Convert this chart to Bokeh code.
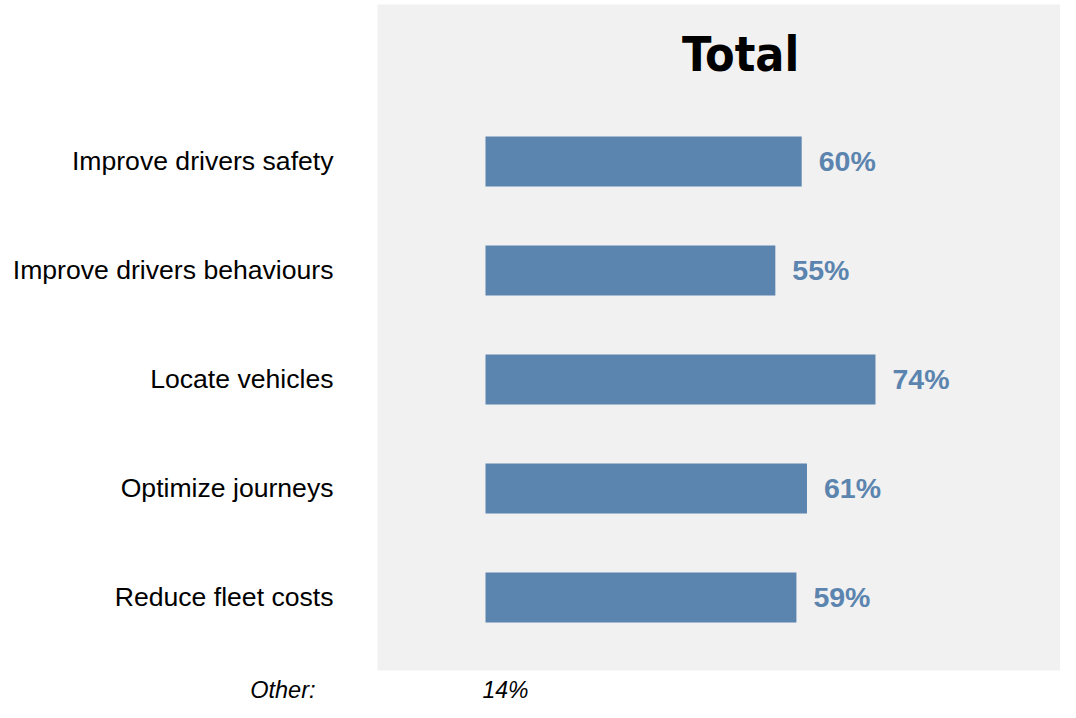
from bokeh.plotting import figure
from bokeh.models import Range1d, ColumnDataSource
from bokeh.core.properties import value
from bokeh.embed import file_html
from bokeh.resources import INLINE

# ---- data ----
categories = ["Improve drivers safety", "Improve drivers behaviours", "Locate vehicles",
              "Optimize journeys", "Reduce fleet costs"]
values = [60, 55, 74, 61, 59]
other_label = "Other:"
other_value = 14
title_text = "Total"

BAR_COLOR = "#5b84af"
PANEL_COLOR = "#f1f1f1"

n = len(categories)
ypos = [n - i for i in range(n)]  # top row highest

p = figure(width=1060, height=702, output_backend="svg", toolbar_location=None,
           x_range=Range1d(-92.03, 109.11), y_range=Range1d(0.0367, 6.477),
           min_border_left=0, min_border_right=0, min_border_top=0, min_border_bottom=0,
           x_axis_location=None, y_axis_location=None)
p.outline_line_color = None
p.grid.visible = False
p.background_fill_color = "white"
p.border_fill_color = "white"

# grey panel
p.quad(left=[-20.49], right=[115], bottom=[0.33], top=[6.44], fill_color=PANEL_COLOR, line_color=None)

src = ColumnDataSource(dict(y=ypos, v=values, lab=[f"{v}%" for v in values], cat=categories,
                            zero=[0] * n))
p.hbar(y="y", left=0, right="v", height=0.459, source=src, fill_color=BAR_COLOR, line_color=None)
p.text(x="v", y="y", text="lab", source=src, x_offset=17, text_align="left", text_baseline="middle",
       text_font=value("Liberation Sans"), text_font_style="bold", text_font_size="28.5px",
       text_color=BAR_COLOR)

# category labels
p.text(x="zero", y="y", text="cat", source=src, x_offset=-152, text_align="right",
       text_baseline="middle", text_font=value("Liberation Sans"), text_font_size="26.6px",
       text_color="black")

# title
p.text(x=[48.4], y=[5.99], text=[title_text], text_align="center", text_baseline="middle",
       text_font=value("Impact, Liberation Sans Narrow, DejaVu Sans Condensed, sans-serif"),
       text_font_style="bold", text_font_size="48px", text_color="black")

# other
p.text(x=[0], y=[0.15], text=[other_label], x_offset=-170, text_align="right", text_baseline="middle",
       text_font=value("Liberation Sans"), text_font_style="italic", text_font_size="23.5px",
       text_color="black")
p.text(x=[0], y=[0.15], text=[f"{other_value}%"], x_offset=-3, text_align="left", text_baseline="middle",
       text_font=value("Liberation Sans"), text_font_style="italic", text_font_size="23px",
       text_color="black")

open("out.html", "w").write(file_html(p, INLINE))
